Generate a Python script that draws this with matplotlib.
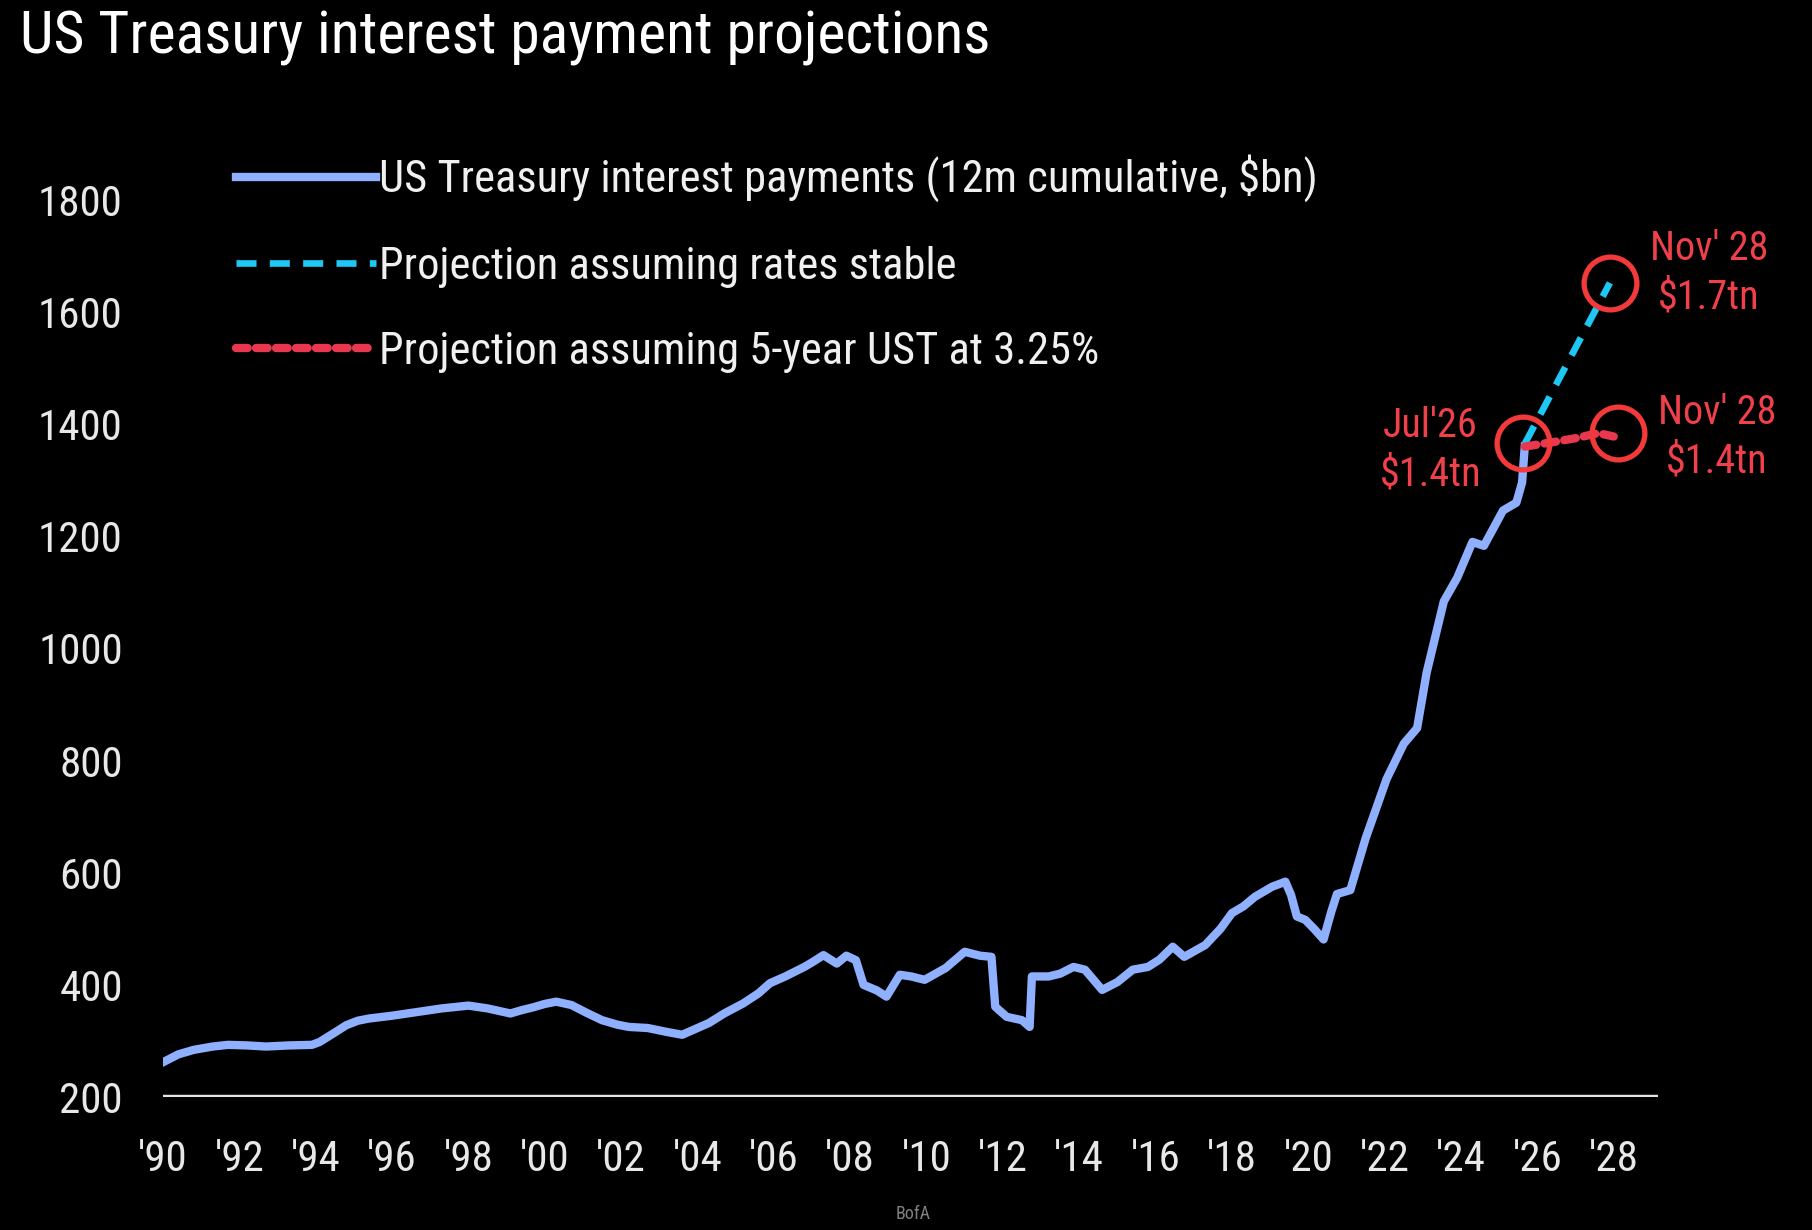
import matplotlib
matplotlib.use("Agg")
import matplotlib.pyplot as plt
from matplotlib import font_manager

# pick a narrow face if one is installed, the original uses a condensed font
installed = {f.name for f in font_manager.fontManager.ttflist}
narrow = [n for n in ['Roboto Condensed', 'Liberation Sans Narrow', 'DejaVu Sans Condensed',
                      'Open Sans Condensed', 'Liberation Sans'] if n in installed]
plt.rcParams['font.family'] = narrow + ['DejaVu Sans']

# 12m cumulative interest payments, $bn
years = [1990.0, 1990.4, 1990.8, 1991.3, 1991.7, 1992.2, 1992.7, 1993.3, 1993.9, 1994.1,
         1994.5, 1994.8, 1995.1, 1995.4, 1996.0, 1996.7, 1997.3, 1998.0, 1998.5, 1999.1,
         1999.4, 1999.7, 2000.0, 2000.3, 2000.7, 2001.1, 2001.5, 2001.9, 2002.2, 2002.7,
         2003.2, 2003.6, 2003.9, 2004.3, 2004.7, 2005.2, 2005.6, 2005.9, 2006.3, 2006.8,
         2007.0, 2007.3, 2007.65, 2007.9, 2008.15, 2008.35, 2008.7, 2008.95, 2009.3, 2009.6,
         2009.95, 2010.5, 2011.0, 2011.4, 2011.7, 2011.8, 2012.1, 2012.5, 2012.7, 2012.76,
         2013.2, 2013.5, 2013.85, 2014.15, 2014.6, 2015.0, 2015.4, 2015.8, 2016.1, 2016.45,
         2016.75, 2017.3, 2017.7, 2018.0, 2018.3, 2018.6, 2019.05, 2019.4, 2019.55, 2019.7,
         2019.92, 2020.15, 2020.4, 2020.6, 2020.75, 2021.1, 2021.5, 2022.05, 2022.5, 2022.85,
         2023.1, 2023.55, 2023.9, 2024.3, 2024.6, 2025.1, 2025.45, 2025.6, 2025.67]
payments = [262, 276, 284, 290, 293, 292, 290, 292, 293, 298,
            315, 328, 336, 340, 345, 352, 358, 363, 358, 349,
            355, 360, 366, 370, 364, 350, 337, 329, 325, 323,
            316, 311, 320, 332, 349, 367, 385, 403, 415, 432,
            440, 453, 438, 452, 444, 400, 390, 379, 418, 415,
            409, 430, 459, 452, 450, 361, 343, 337, 325, 415,
            415, 420, 432, 427, 391, 405, 427, 432, 445, 468,
            450, 471, 500, 528, 540, 557, 575, 584, 560, 522,
            516, 500, 481, 530, 562, 569, 661, 767, 830, 858,
            957, 1084, 1126, 1190, 1183, 1246, 1260, 1296, 1360]

stable_years = [2025.67, 2027.9]
stable_vals = [1365, 1652]

ust_years = [2025.67, 2026.5, 2027.0, 2027.6, 2028.0]
ust_vals = [1360, 1369, 1375, 1384, 1378]

circle_years = [2025.62, 2027.9, 2028.1]
circle_vals = [1367, 1652, 1384]

callouts = ["Jul'26\n$1.4tn", "Nov' 28\n$1.7tn", "Nov' 28\n$1.4tn"]
callout_pos = [(2023.2, 1354), (2030.5, 1670), (2030.7, 1377)]

tick_years = list(range(1990, 2029, 2))
tick_labels = ["'%02d" % (y % 100) for y in tick_years]

fig = plt.figure(figsize=(18.12, 12.30), dpi=100, facecolor='black')
ax = fig.add_axes([163 / 1812, 1 - 1097 / 1230, 1495 / 1812, 947 / 1230])
ax.set_facecolor('black')

ax.axhline(200, color='#e4e4e4', lw=3.2)
ax.plot(years, payments, color='#8fb0ff', lw=6,
        label='US Treasury interest payments (12m cumulative, $bn)')
ax.plot(stable_years, stable_vals, color='#1ec8f5', lw=4.8, dashes=(3.0, 2.0),
        label='Projection assuming rates stable')
ax.plot(ust_years, ust_vals, color='#e8384f', lw=6, dashes=(1.4, 1.0),
        dash_capstyle='round', label='Projection assuming 5-year UST at 3.25%')
ax.plot(circle_years, circle_vals, 'o', ms=38, mfc='none', mec='#f23a3a', mew=3.8)

for txt, (x, y) in zip(callouts, callout_pos):
    ax.text(x, y, txt, color='#f0404a', fontsize=29, ha='center', va='center',
            linespacing=1.3, clip_on=False)

ax.set_xlim(1990, 2029.16)
ax.set_ylim(200, 1889)
ax.set_xticks(tick_years)
ax.set_xticklabels(tick_labels)
ax.set_yticks(range(200, 1801, 200))
ax.tick_params(axis='both', length=0, labelsize=31, colors='#e8e8e8')
ax.tick_params(axis='x', pad=30)
ax.tick_params(axis='y', pad=29)
for s in ax.spines.values():
    s.set_visible(False)

leg = ax.legend(loc='upper left', bbox_to_anchor=(0.049, 0.995), frameon=False,
                fontsize=32, handlelength=3.15, handletextpad=0.07,
                labelspacing=0.97, borderpad=0, borderaxespad=0)
for t in leg.get_texts():
    t.set_color('#f0f0f0')

fig.text(20 / 1812, 1 - 54 / 1230, 'US Treasury interest payment projections',
         color='white', fontsize=43, va='baseline', ha='left')
fig.text(913 / 1812, 1 - 1214 / 1230, 'BofA', color='#808080', fontsize=13,
         ha='center', va='center')

fig.savefig('out.png', dpi=100, facecolor='black')
